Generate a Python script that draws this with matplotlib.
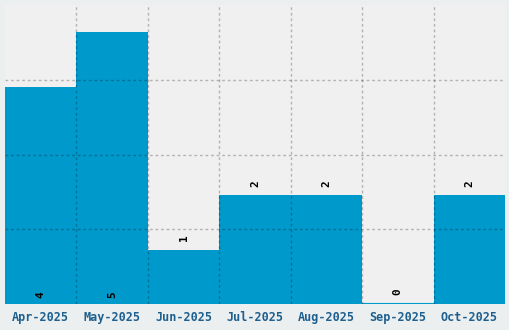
import matplotlib
matplotlib.use("Agg")
import matplotlib.pyplot as plt
import numpy as np

months = ["Apr-2025", "May-2025", "Jun-2025", "Jul-2025", "Aug-2025", "Sep-2025", "Oct-2025"]
counts = [4, 5, 1, 2, 2, 0, 2]
# labels drawn at the bar base instead of above the top
inside = [True, True, False, False, False, False, False]

bar_color = "#0099cc"
y_max = 5.5

fig = plt.figure(figsize=(5.1, 3.3), dpi=100, facecolor="#ebeff0")
ax = fig.add_axes([5 / 510, 26 / 330, 500 / 510, 299 / 330])
ax.set_facecolor("#f0f0f0")

x = np.arange(len(months))
ax.bar(x, counts, width=1.0, color=bar_color, zorder=1)
ax.axhline(0, color=bar_color, lw=1.5, zorder=1)

ax.set_xlim(-0.5, len(months) - 0.5)
ax.set_ylim(0, y_max)

ax.set_xticks(x)
ax.set_xticklabels(months, family="DejaVu Sans Mono", fontweight="bold",
                   fontsize=8.5, color="#1d5f8e")
ax.set_xticks(x[:-1] + 0.5, minor=True)
ax.set_yticks(np.linspace(0, y_max, 5)[1:-1])
ax.set_yticklabels([])
ax.tick_params(axis="both", which="both", length=0, pad=5)

grid_style = dict(color="black", alpha=0.25, linestyle=(0, (2, 2)), lw=1, zorder=2)
ax.grid(True, which="minor", axis="x", **grid_style)
ax.grid(True, which="major", axis="y", **grid_style)
ax.set_axisbelow(False)

for xi, c, ins in zip(x, counts, inside):
    y0 = 0 if ins else c
    off = 9 if ins else 12
    ax.annotate(str(c), (xi, y0), xytext=(0, off), textcoords="offset pixels",
                ha="center", va="center", rotation=90, family="DejaVu Sans Mono",
                fontweight="bold", fontsize=8, color="black", zorder=3)

for s in ax.spines.values():
    s.set_visible(False)

fig.savefig("out.png", dpi=100, facecolor=fig.get_facecolor())
